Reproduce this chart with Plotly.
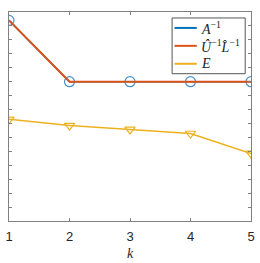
import plotly.graph_objects as go

k = [1, 2, 3, 4, 5]
a_inv = [14.4, 10.0, 10.0, 10.0, 10.0]
lu_inv = [14.4, 10.0, 10.0, 10.0, 10.0]
e_vals = [7.3, 6.85, 6.57, 6.28, 4.85]

names = ["<i>A</i><sup>−1</sup>", "<i>Û</i><sup>−1</sup><i>L̂</i><sup>−1</sup>", "<i>E</i>"]
colors = ["#0072BD", "#D95319", "#EDB120"]

fig = go.Figure()
fig.add_trace(go.Scatter(x=k, y=a_inv, mode="lines+markers", name=names[0], showlegend=False,
                         line=dict(color=colors[0], width=1.5),
                         marker=dict(symbol="circle-open", size=10, color="#4a8fc9", line=dict(width=1.2))))
fig.add_trace(go.Scatter(x=k, y=lu_inv, mode="lines", name=names[1], showlegend=False,
                         line=dict(color=colors[1], width=2)))
fig.add_trace(go.Scatter(x=k, y=e_vals, mode="lines+markers", name=names[2], showlegend=False,
                         line=dict(color=colors[2], width=1.5),
                         marker=dict(symbol="triangle-down-open", size=9, color=colors[2], line=dict(width=1.2))))

# compact MATLAB-style legend box (paper coordinates)
W, H = 260, 263
ML, MR, MT, MB = 5, 5, 12, 41
pw, ph = W - ML - MR, H - MT - MB
def px(x):
    return (x - ML) / pw
def py(y):
    return (H - MB - y) / ph

fig.add_shape(type="rect", xref="paper", yref="paper", x0=px(173.5), x1=px(249), y0=py(18), y1=py(74),
              line=dict(color="#555555", width=1), fillcolor="white", layer="above")
for i, (nm, c) in enumerate(zip(names, colors)):
    yy = 28 + 18 * i
    fig.add_shape(type="line", xref="paper", yref="paper", x0=px(176), x1=px(199), y0=py(yy), y1=py(yy),
                  line=dict(color=c, width=2), layer="above")
    fig.add_annotation(xref="paper", yref="paper", x=px(201), y=py(yy), text=nm, showarrow=False,
                       xanchor="left", yanchor="middle",
                       font=dict(family="Liberation Serif, serif", size=14, color="#262626"))

axis_common = dict(showgrid=False, zeroline=False, showline=True, linecolor="#808080", linewidth=1,
                   mirror="ticks", ticks="inside", ticklen=3, tickcolor="#808080")
fig.update_layout(
    width=W, height=H,
    margin=dict(l=ML, r=MR, t=MT, b=MB),
    plot_bgcolor="white", paper_bgcolor="white",
    font=dict(family="Liberation Sans, Arial, sans-serif", size=13, color="#262626"),
    xaxis=dict(range=[1, 5], tickmode="array", tickvals=k, ticktext=[str(v) for v in k],
               ticklabelstandoff=3,
               title=dict(text="<i>k</i>", font=dict(family="Liberation Serif, serif", size=14), standoff=5),
               **axis_common),
    yaxis=dict(range=[0, 15], dtick=1, showticklabels=False, **axis_common),
    showlegend=False,
)
fig.write_html("out.html")
